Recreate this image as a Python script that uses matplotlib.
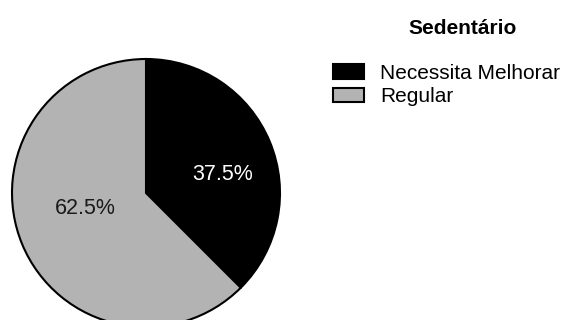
import numpy as np
import matplotlib.pyplot as plt
from matplotlib import rcParams

rcParams['font.family'] = ['Liberation Sans', 'DejaVu Sans']

# data
labels = ['Necessita Melhorar', 'Regular']
values = [37.5, 62.5]
colors = ['#000000', '#b3b3b3']
pct_colors = ['white', '#1a1a1a']
pct_radius = [0.59, 0.47]
title = 'Sedentário'

W, H = 565, 320
fig = plt.figure(figsize=(W / 100, H / 100), dpi=100)

# pie: centre (146, 193) px, radius 134 px
cx, cy, r = 146, 193, 134
ax = fig.add_axes([(cx - r) / W, (H - cy - r) / H, 2 * r / W, 2 * r / H])
wedges, texts, autotexts = ax.pie(
    values, colors=colors, startangle=90, counterclock=False,
    autopct='%.1f%%',
    wedgeprops=dict(edgecolor='black', linewidth=1.5),
    textprops=dict(fontsize=15.5))
# labels sit a bit clockwise of the wedge middle
for w, t, c, rr in zip(wedges, autotexts, pct_colors, pct_radius):
    ang = np.deg2rad((w.theta1 + w.theta2) / 2 - 8.7)
    t.set_position((rr * np.cos(ang), rr * np.sin(ang)))
    t.set_color(c)
ax.set_xlim(-1, 1)
ax.set_ylim(-1, 1)
ax.set_aspect('equal')

fig.text(463 / W, 1 - 29 / H, title, ha='center', va='center',
         fontsize=15, fontweight='bold')

fig.legend(wedges, labels, loc='upper left',
           bbox_to_anchor=(333 / W, 1 - 64 / H), frameon=False,
           fontsize=15, borderpad=0, borderaxespad=0,
           handlelength=1.5, handleheight=0.7, handletextpad=0.75,
           labelspacing=0.2)

fig.savefig('out.png', dpi=100)
